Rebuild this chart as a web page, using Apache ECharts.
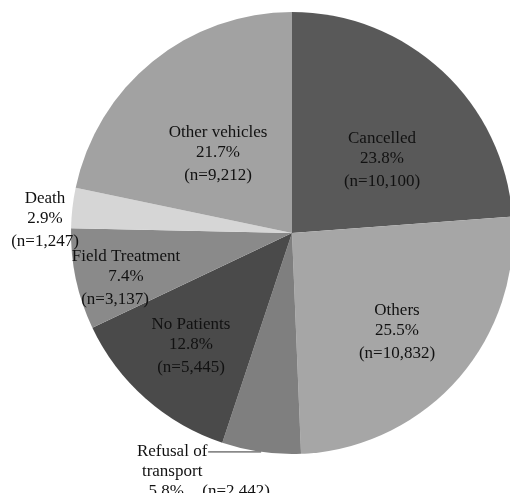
<!DOCTYPE html>
<html>
<head>
<meta charset="utf-8">
<script src="https://cdn.jsdelivr.net/npm/echarts@6/dist/echarts.min.js"></script>
<style>html,body{margin:0;padding:0;background:#fff;}#c{width:510px;height:493px;}</style>
</head>
<body>
<div id="c"></div>
<script>
var categories = ['Cancelled', 'Others', 'Refusal of transport', 'No Patients', 'Field Treatment', 'Death', 'Other vehicles'];
var counts = [10100, 10832, 2442, 5445, 3137, 1247, 9212];
var percents = ['23.8%', '25.5%', '5.8%', '12.8%', '7.4%', '2.9%', '21.7%'];
var colors = ['#595959', '#a6a6a6', '#7f7f7f', '#4a4a4a', '#8a8a8a', '#d6d6d6', '#a2a2a2'];
// label anchor positions (style only)
var labelPos = [[382, 162], [397, 334], null, [191, 348], [126, 280], [45, 222], [218, 156]];

function fmtN(v) { return '(n=' + v.toLocaleString('en-US') + ')'; }

var chart = echarts.init(document.getElementById('c'));
var data = categories.map(function (name, i) {
  var item = { name: name, value: counts[i], itemStyle: { color: colors[i] } };
  if (i === 2) {
    item.label = {
      position: 'outside',
      distanceToLabelLine: -68,
      padding: [40, 0, 0, 0],
      formatter: '{a|Refusal of}{s|}\n{a|transport}{s|}\n{p|' + percents[i] + '}{b|' + fmtN(counts[i]) + '}'
    };
    item.labelLine = { show: true, length: 0.1, length2: 53, lineStyle: { color: '#333', width: 1 } };
  }
  return item;
});

var serif = 'Liberation Serif, Times New Roman, serif';
var txt = '#111';
chart.setOption({
  animation: false,
  series: [{
    type: 'pie',
    center: [292, 233],
    radius: [0, 221],
    startAngle: 90,
    clockwise: true,
    avoidLabelOverlap: false,
    itemStyle: { borderWidth: 0 },
    emphasis: { disabled: true },
    label: {
      show: true,
      position: 'inside',
      color: txt,
      fontFamily: serif,
      fontSize: 17,
      formatter: function (p) {
        var i = p.dataIndex;
        var third = i === 4 ? 'd' : 'c';
        return '{a|' + categories[i] + '}\n{a|' + percents[i] + '}\n{' + third + '|' + fmtN(counts[i]) + '}';
      },
      rich: {
        a: { fontFamily: serif, fontSize: 17, color: txt, lineHeight: 20, width: 72, align: 'center' },
        p: { fontFamily: serif, fontSize: 17, color: txt, lineHeight: 20, width: 60, align: 'right' },
        b: { fontFamily: serif, fontSize: 17, color: txt, lineHeight: 20, width: 80, align: 'center' },
        c: { fontFamily: serif, fontSize: 17, color: txt, lineHeight: 26, align: 'center' },
        d: { fontFamily: serif, fontSize: 17, color: txt, lineHeight: 26, align: 'center', padding: [0, 22, 0, 0] },
        s: { width: 68, lineHeight: 20 }
      }
    },
    labelLine: { show: false },
    labelLayout: function (params) {
      var pos = labelPos[params.dataIndex];
      if (!pos) return {};
      return { x: pos[0], y: pos[1], align: 'center', verticalAlign: 'middle' };
    },
    data: data
  }]
});
</script>
</body>
</html>
